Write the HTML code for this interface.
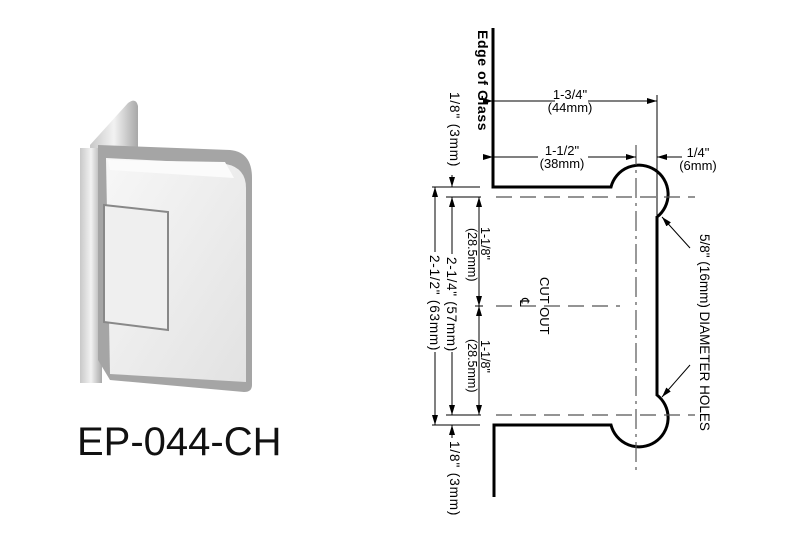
<!DOCTYPE html>
<html><head><meta charset="utf-8"><style>
html,body{margin:0;padding:0;background:#fff;}
svg{display:block;font-family:"Liberation Sans",Arial,sans-serif;}
</style></head><body>
<svg width="800" height="550" viewBox="0 0 800 550" xmlns="http://www.w3.org/2000/svg">
<defs>
<linearGradient id="g1" x1="0" y1="0" x2="1" y2="1"><stop offset="0" stop-color="#f7f7f7"/><stop offset="1" stop-color="#e2e2e2"/></linearGradient>
<linearGradient id="g2" x1="0" y1="0" x2="1" y2="0"><stop offset="0" stop-color="#c8c8c8"/><stop offset="0.5" stop-color="#f2f2f2"/><stop offset="1" stop-color="#a8a8a8"/></linearGradient>
<marker id="ar" viewBox="0 0 10 6" refX="10" refY="3" markerWidth="10" markerHeight="6" orient="auto" markerUnits="userSpaceOnUse"><path d="M0,0 L10,3 L0,6 z" fill="#000"/></marker>
</defs>
<!-- photo -->
<path d="M90,145 L128,103 Q136,97 138,106 L138,160 L90,210 Z" fill="url(#g2)"/>
<rect x="80" y="148" width="22" height="235" fill="url(#g2)"/>
<path d="M98,145 L230,150 Q252,152 252,178 L252,385 Q252,392 244,392 L110,380 L98,360 Z" fill="#a5a5a5"/>
<path d="M106,158 L226,164 Q246,168 246,188 L246,382 L110,374 Z" fill="url(#g1)"/>
<path d="M104,205 L168,212 L168,330 L104,322 Z" fill="#efefef" stroke="#888" stroke-width="2"/>
<path d="M108,160 L225,162 L234,178 L110,170 Z" fill="#fbfbfb"/>
<text x="77" y="455" font-size="40" fill="#111">EP-044-CH</text>
<!-- drawing -->
<g fill="none" stroke="#000">
<path d="M493,28 L493,187 L611,187 A29,29 0 1 1 657,217 L657,395 A29,29 0 1 1 611,425 L494,425 L494,497" stroke-width="3"/>
<g stroke="#555" stroke-width="1.2" stroke-dasharray="16,8">
<line x1="496" y1="197" x2="695" y2="197"/>
<line x1="496" y1="415" x2="695" y2="415"/>
<line x1="496" y1="306" x2="620" y2="306"/>
<line x1="636" y1="145" x2="636" y2="470" stroke-dasharray="20,5,3,5"/>
</g>
<g stroke-width="1">
<line x1="657" y1="95" x2="657" y2="215"/>
<line x1="493" y1="101" x2="555" y2="101" marker-start="url(#ar)"/>
<line x1="588" y1="101" x2="657" y2="101" marker-end="url(#ar)"/>
<line x1="493" y1="157" x2="538" y2="157" marker-start="url(#ar)"/>
<line x1="588" y1="157" x2="636" y2="157" marker-end="url(#ar)"/>
<line x1="682" y1="157" x2="657" y2="157" marker-end="url(#ar)"/>
<line x1="690" y1="248" x2="662" y2="217" marker-end="url(#ar)"/>
<line x1="690" y1="365" x2="662" y2="397" marker-end="url(#ar)"/>
<line x1="432" y1="187" x2="480" y2="187"/>
<line x1="446" y1="197" x2="481" y2="197"/>
<line x1="446" y1="415" x2="481" y2="415"/>
<line x1="432" y1="425" x2="480" y2="425"/>
<line x1="475" y1="306" x2="483" y2="306"/>
<line x1="452" y1="175" x2="452" y2="187" marker-end="url(#ar)"/>
<line x1="452" y1="438" x2="452" y2="425" marker-end="url(#ar)"/>
<line x1="435" y1="252" x2="435" y2="187" marker-end="url(#ar)"/>
<line x1="435" y1="352" x2="435" y2="425" marker-end="url(#ar)"/>
<line x1="452" y1="254" x2="452" y2="197" marker-end="url(#ar)"/>
<line x1="452" y1="352" x2="452" y2="415" marker-end="url(#ar)"/>
<line x1="479" y1="225" x2="479" y2="197" marker-end="url(#ar)"/>
<line x1="479" y1="225" x2="479" y2="306" marker-end="url(#ar)"/>
<line x1="479" y1="340" x2="479" y2="306" marker-end="url(#ar)"/>
<line x1="479" y1="340" x2="479" y2="415" marker-end="url(#ar)"/>
</g>
</g>
<g font-size="13" fill="#000" text-anchor="middle">
<text x="570" y="99">1-3/4"</text><text x="570" y="112">(44mm)</text>
<text x="562" y="155">1-1/2"</text><text x="562" y="168">(38mm)</text>
<text x="698" y="157">1/4"</text><text x="698" y="170">(6mm)</text>
</g>
<g font-size="13.5" fill="#000">
<text transform="translate(478,30) rotate(90)" font-weight="bold" font-size="14" letter-spacing="0.6">Edge of Glass</text>
<text transform="translate(450,92) rotate(90)" letter-spacing="0.9">1/8" (3mm)</text>
<text transform="translate(450,441) rotate(90)" letter-spacing="0.9">1/8" (3mm)</text>
<text transform="translate(430,255) rotate(90)" letter-spacing="0.8">2-1/2" (63mm)</text>
<text transform="translate(447,257) rotate(90)" letter-spacing="0.7">2-1/4" (57mm)</text>
<text transform="translate(481,227) rotate(90)" font-size="12.5">1-1/8"</text>
<text transform="translate(468,228) rotate(90)" font-size="12.5">(28.5mm)</text>
<text transform="translate(481,340) rotate(90)" font-size="12.5">1-1/8"</text>
<text transform="translate(468,339) rotate(90)" font-size="12.5">(28.5mm)</text>
<text transform="translate(540,277) rotate(90)" font-size="13">CUT OUT</text>
<text transform="translate(520,298) rotate(90)" font-size="13">℄</text>
<text transform="translate(700,234) rotate(90)">5/8" (16mm) DIAMETER HOLES</text>
</g>
</svg>
</body></html>
